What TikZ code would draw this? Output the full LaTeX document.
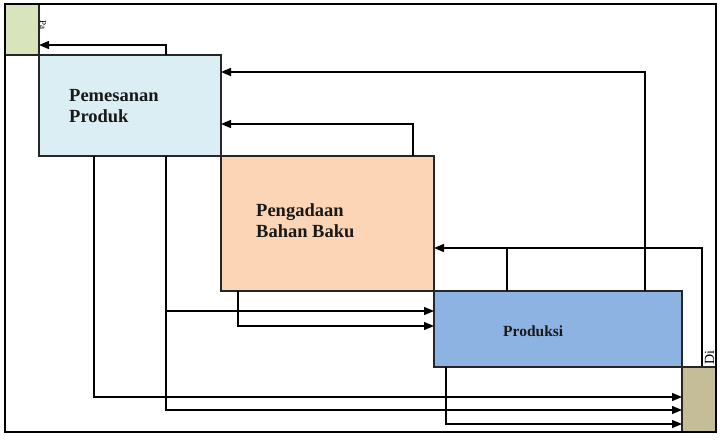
\documentclass[tikz,border=0pt]{standalone}
\usepackage{fontspec}
\setmainfont{Liberation Serif}
\usetikzlibrary{arrows.meta,calc}
\definecolor{pemfill}{HTML}{DBEEF4}
\definecolor{pengfill}{HTML}{FBD5B5}
\definecolor{prodfill}{HTML}{8DB3E2}
\definecolor{grnfill}{HTML}{D7E4BC}
\definecolor{brnfill}{HTML}{C4BD97}
\begin{document}
\begin{tikzpicture}[x=1pt,y=-1pt,
 box/.style={draw=black!85, line width=1.3pt, inner sep=0, outer sep=0, anchor=north west},
 lbl/.style={font=\bfseries\fontsize{18.5}{21}\selectfont, align=left, inner sep=0, anchor=base west, text=black!90},
 conn/.style={line width=1.4pt},
 arr/.style={conn, -{Triangle[length=10pt,width=8pt]}}]
\useasboundingbox (0,0) rectangle (723,440);
\node[box, fill=grnfill, minimum width=34pt, minimum height=51pt] (grn) at (5,4) {};
\node[box, fill=pemfill, minimum width=182pt, minimum height=101pt] (pem) at (39,55) {};
\node[box, fill=pengfill, minimum width=213pt, minimum height=135pt] (peng) at (221,156) {};
\node[box, fill=prodfill, minimum width=248pt, minimum height=76pt] (prod) at (434,291) {};

% upward feedback connectors
\draw[arr] ($(pem.north west)+(127,0)$) |- (grn.east |- 0,45);
\draw[arr] ($(prod.north west)+(211,0)$) |- (pem.east |- 0,72);
\draw[arr] ($(peng.north west)+(192,0)$) |- (pem.east |- 0,124);
\coordinate (dtop) at (702,367);
\draw[arr] (dtop) |- (peng.east |- 0,248);
\coordinate (j) at (507,248);
\draw[conn] (prod.north -| j) -- (j);

% rotated labels
\node[rotate=-90, font=\fontsize{9}{10}\selectfont, inner sep=0] (pa) at (43,25) {Pa};
\node[rotate=90, font=\fontsize{14}{15}\selectfont, inner sep=0, anchor=base west] (dit) at (714,365) {Di};

\node[box, fill=brnfill, minimum width=34pt, minimum height=65pt] (di) at (682,367) {};

% downward connectors
\draw[arr] ($(pem.south west)+(55,0)$) |- (di.west |- 0,397);
\draw[arr] ($(pem.south west)+(127,0)$) |- (di.west |- 0,410);
\coordinate (b1) at (166,311);
\draw[arr] (b1) -- (prod.west |- b1);
\draw[arr] ($(peng.south west)+(17,0)$) |- (prod.west |- 0,326);
\draw[arr] ($(prod.south west)+(12,0)$) |- (di.west |- 0,424);

% texts
\node[lbl] (pemt) at (69,122) {Pemesanan\\Produk};
\node[lbl] (pengt) at (256,237) {Pengadaan\\Bahan Baku};
\node[lbl, font=\bfseries\fontsize{15.5}{18}\selectfont] (prodt) at (503,336) {Produksi};

% outer frame
\draw[line width=2.5pt] (5,4) rectangle (716,432);
\end{tikzpicture}
\end{document}
